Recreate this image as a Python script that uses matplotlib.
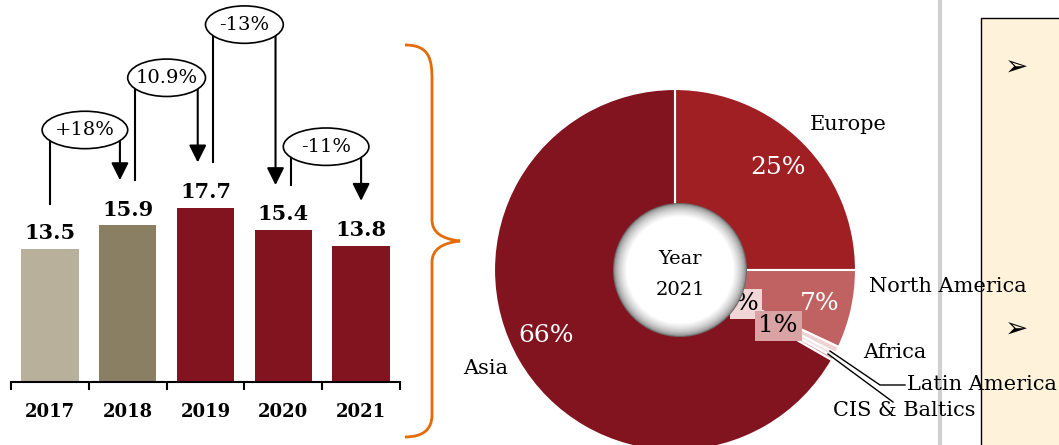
import matplotlib.pyplot as plt
from matplotlib.patches import Ellipse, Rectangle, Circle, PathPatch
from matplotlib.path import Path
import numpy as np

# bar data
years = ["2017", "2018", "2019", "2020", "2021"]
volumes = [13.5, 15.9, 17.7, 15.4, 13.8]
bar_colors = ["#B8B09A", "#8A7F62", "#82141F", "#82141F", "#82141F"]
changes = ["+18%", "10.9%", "-13%", "-11%"]
bubble_levels = [25.6, 30.9, 36.3, 23.9]   # height of the change bubbles

# donut data (2021 shares)
regions = ["Europe", "North America", "Africa", "Latin America", "CIS & Baltics", "Asia"]
shares = [25, 7, 0.6, 0.4, 0.3, 66.7]
share_labels = ["25%", "7%", "%", "1%", "", "66%"]
pie_colors = ["#A01F23", "#C06262", "#EFD3D3", "#F5E3E3", "#D9A3A3", "#82141F"]

plt.rcParams['font.family'] = ['DejaVu Serif']

fig = plt.figure(figsize=(10.59, 4.45), dpi=100)

# background decorations (pixel coords)
bg = fig.add_axes([0, 0, 1, 1], zorder=0)
bg.set_xlim(0, 1059)
bg.set_ylim(445, 0)
bg.axis('off')
bg.plot([940, 940], [0, 445], color="#CFCFCF", lw=3)
bg.add_patch(Rectangle((981, 18), 120, 450, fc="#FFF2DA", ec="black", lw=1))
for yy in [68, 330]:
    bg.text(1017, yy, "\u27a2", family="DejaVu Sans", fontsize=20, ha="center", va="center")
# orange brace
verts = [(405, 45), (430, 45), (432, 60), (432, 80),
         (432, 220), (432, 238), (460, 241),
         (432, 244), (432, 262), (432, 280),
         (432, 415), (432, 437), (405, 437)]
codes = [Path.MOVETO, Path.CURVE4, Path.CURVE4, Path.CURVE4,
         Path.LINETO, Path.CURVE3, Path.CURVE3,
         Path.CURVE3, Path.CURVE3, Path.LINETO,
         Path.LINETO, Path.CURVE3, Path.CURVE3]
bg.add_patch(PathPatch(Path(verts, codes), fc="none", ec="#E36C09", lw=2))

# bar chart
ax = fig.add_axes([11/1059, 63/445, 389/1059, 382/445], zorder=1)
ax.patch.set_visible(False)
x = np.arange(len(years))
ax.bar(x, volumes, width=0.74, color=bar_colors)
ax.set_xlim(-0.5, 4.5)
ax.set_ylim(0, 38.8)
for s in ["top", "right", "left"]:
    ax.spines[s].set_visible(False)
ax.spines["bottom"].set_linewidth(1.5)
ax.set_yticks([])
ax.set_xticks(np.arange(-0.5, 5, 1))
ax.set_xticklabels([])
ax.tick_params(axis="x", which="major", direction="out", length=6, width=1.5)
ax.set_xticks(x, minor=True)
ax.set_xticklabels(years, minor=True, fontsize=13, fontweight="bold")
ax.tick_params(axis="x", which="minor", length=0, pad=15)

for i, v in enumerate(volumes):
    ax.text(i, v + 0.6, f"{v:.1f}", ha="center", va="bottom", fontsize=15, fontweight="bold")

gap = 4.6
for i, (lab, lvl) in enumerate(zip(changes, bubble_levels)):
    x0 = i if i == 0 else i + 0.1
    x1 = i + 1 if i == 3 else i + 1 - 0.1
    ax.plot([x0, x0], [volumes[i] + gap, lvl], color="black", lw=1.5, zorder=3)
    ax.annotate("", xy=(x1, volumes[i + 1] + gap), xytext=(x1, lvl),
                arrowprops=dict(arrowstyle="-|>,head_length=0.7,head_width=0.35",
                                mutation_scale=15, lw=1.5, color="black",
                                shrinkA=0, shrinkB=0), zorder=3)
    w = (x1 - x0) + 0.2
    ax.add_patch(Ellipse(((x0 + x1) / 2, lvl), w, 3.8, fc="white", ec="black",
                         lw=1.2, zorder=4, clip_on=False))
    ax.text((x0 + x1) / 2, lvl, lab, ha="center", va="center", fontsize=14, zorder=5)

# donut
R = 181.0
def px(xp, yp):
    return ((xp - 675) / R, (270 - yp) / R)

pa = fig.add_axes([475/1059, -25/445, 400/1059, 400/445], zorder=1)
pa.pie(shares, colors=pie_colors, startangle=90, counterclock=False, radius=1,
       wedgeprops=dict(edgecolor="white", linewidth=1.5))
pa.set_aspect('auto')
pa.set_xlim(-200/R, 200/R)
pa.set_ylim(-200/R, 200/R)
pa.axis('off')

pa.text(*px(778, 168), share_labels[0], color="white", fontsize=18, ha="center", va="center")
pa.text(*px(820, 303), share_labels[1], color="white", fontsize=18, ha="center", va="center")
pa.text(*px(746, 304), share_labels[2], color="black", fontsize=18, ha="center", va="center",
        bbox=dict(boxstyle="square,pad=0.15", fc="#F0D6D6", ec="none"))
pa.text(*px(778, 326), share_labels[3], color="black", fontsize=18, ha="center", va="center",
        bbox=dict(boxstyle="square,pad=0.15", fc="#D9A3A3", ec="none"))
pa.text(*px(546, 336), share_labels[5], color="white", fontsize=18, ha="center", va="center")

# hole with bevel
hc = px(680, 270)
rh = 67 / R
for k in range(30):
    r = rh * (1 - k / 60)
    t = min(1, k / 12)
    g = 0.42 + 0.58 * t ** 0.5
    pa.add_patch(Circle(hc, r, fc=(g, g, g), ec="none", zorder=5))
pa.text(*px(680, 259), "Year", fontsize=14, ha="center", va="center", zorder=6)
pa.text(*px(680, 290), "2021", fontsize=14, ha="center", va="center", zorder=6)

# region labels
pa.text(*px(848, 125), regions[0], fontsize=15, ha="center", va="center", zorder=7)
pa.text(*px(948, 286), regions[1], fontsize=15, ha="center", va="center", zorder=7)
pa.text(*px(895, 353), regions[2], fontsize=15, ha="center", va="center", zorder=7)
pa.text(*px(907, 384), regions[3], fontsize=15, ha="left", va="center", zorder=7)
pa.text(*px(904, 410), regions[4], fontsize=15, ha="center", va="center", zorder=7)
pa.text(*px(486, 368), regions[5], fontsize=15, ha="center", va="center", zorder=7)
l1 = [px(830, 351), px(880, 385), px(905, 385)]
l2 = [px(828, 354), px(893, 402)]
pa.plot([p[0] for p in l1], [p[1] for p in l1], color="black", lw=1, zorder=6, clip_on=False)
pa.plot([p[0] for p in l2], [p[1] for p in l2], color="black", lw=1, zorder=6, clip_on=False)

fig.savefig("out.png", dpi=100)
